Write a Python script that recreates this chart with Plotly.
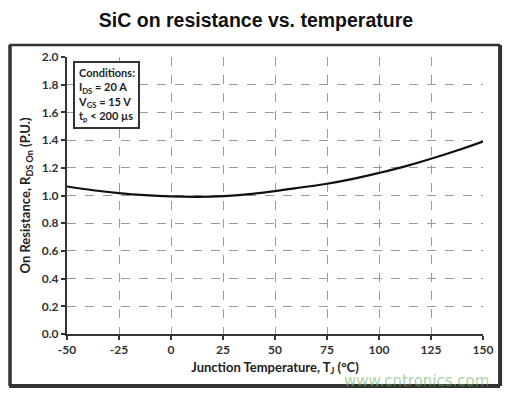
import plotly.graph_objects as go

temps = [-50, -37.5, -25, -12.5, 0, 12.5, 25, 37.5, 50, 62.5, 75, 87.5, 100, 112.5, 125, 137.5, 150]
rds_on = [1.065, 1.038, 1.017, 1.002, 0.993, 0.99, 0.995, 1.01, 1.032, 1.058, 1.085, 1.12, 1.163, 1.21, 1.265, 1.325, 1.39]
x_ticks = [-50, -25, 0, 25, 50, 75, 100, 125, 150]
y_ticks = [0.0, 0.2, 0.4, 0.6, 0.8, 1.0, 1.2, 1.4, 1.6, 1.8, 2.0]

FONT = "Lato"
fig = go.Figure()
fig.add_trace(go.Scatter(x=temps, y=rds_on, mode="lines", line=dict(color="#111111", width=2.2, shape="spline"),
                         showlegend=False, hoverinfo="skip"))

axis_common = dict(showgrid=True, gridcolor="#9a9a9a", griddash="dash", gridwidth=1,
                   zeroline=False, ticks="outside", ticklen=4, tickwidth=1.5, tickcolor="#333",
                   showline=True, linecolor="#333", linewidth=2,
                   tickfont=dict(family=FONT, size=12, color="#333", weight="bold"))
fig.update_xaxes(range=[-50, 150], tickvals=x_ticks, ticktext=[str(v) for v in x_ticks], **axis_common,
                 title=dict(text="Junction Temperature, T<sub>J</sub> (°C)", standoff=6,
                            font=dict(family=FONT, size=13, color="#222", weight="bold")))
fig.update_yaxes(range=[0, 2.0], tickvals=y_ticks, ticktext=[f"{v:.1f}" for v in y_ticks], **axis_common,
                 title=dict(text="On Resistance, R<sub>DS On</sub> (P.U.)", standoff=8,
                            font=dict(family=FONT, size=13, color="#222", weight="bold")))

frame_line = dict(color="#333", width=2.5)
fig.update_layout(
    width=512, height=397,
    margin=dict(l=67, r=29, t=57, b=63),
    paper_bgcolor="white", plot_bgcolor="white",
    title=dict(text="<b>SiC on resistance vs. temperature</b>", x=0.5, xanchor="center", y=0.948, yanchor="middle",
               font=dict(family="Liberation Sans", size=19.5, color="#111")),
    shapes=[
        dict(type="line", xref="paper", yref="paper", x0=-0.139, x1=1.041, y0=1.043, y1=1.043, layer="above", line=frame_line),
        dict(type="line", xref="paper", yref="paper", x0=-0.137, x1=-0.137, y0=-0.188, y1=1.043, layer="above",
             line=dict(color="#333", width=3.5)),
        dict(type="line", xref="paper", yref="paper", x0=1.041, x1=1.041, y0=-0.188, y1=1.043, layer="above",
             line=dict(color="#333", width=4)),
        dict(type="line", xref="paper", yref="paper", x0=-0.139, x1=1.041, y0=-0.188, y1=-0.188, layer="above",
             line=dict(color="#333", width=4)),
    ],
    annotations=[
        dict(xref="paper", yref="paper", x=0.015, y=0.985, xanchor="left", yanchor="top", align="left",
             text="<b>Conditions:</b><br>I<sub>DS</sub> = 20 A<br>V<sub>GS</sub> = 15 V<br>t<sub>p</sub> < 200 µs",
             showarrow=False, bordercolor="#333", borderwidth=2, borderpad=3, bgcolor="white",
             font=dict(family=FONT, size=11, color="#222", weight="bold")),
        dict(xref="paper", yref="paper", x=1.02, y=-0.171, xanchor="right", yanchor="middle",
             text="www.cntronics.com", showarrow=False,
             font=dict(family="DejaVu Sans", size=15, color="rgba(110,180,100,0.6)")),
    ],
)

fig.write_html("out.html", config={"displayModeBar": False}, post_script="document.body.style.margin='0';")
